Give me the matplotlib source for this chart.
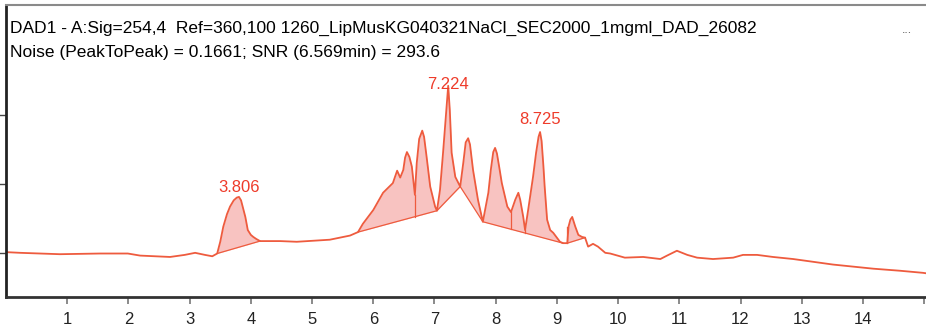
import numpy as np
import matplotlib.pyplot as plt

# chromatogram trace (time in min, signal in arbitrary units)
time = [0.00, 0.23, 0.56, 0.88, 1.54, 1.99, 2.19, 2.68, 2.92, 3.09, 3.25, 3.37,
        3.45, 3.50, 3.55, 3.61, 3.66, 3.72, 3.77, 3.806, 3.84, 3.88, 3.91, 3.95, 4.00, 4.04, 4.09,
        4.15, 4.48, 4.75, 5.29,
        5.62, 5.75, 5.83, 6.00, 6.16, 6.32, 6.39, 6.44, 6.49, 6.52, 6.55, 6.59, 6.63, 6.68,
        6.71, 6.75, 6.80, 6.83, 6.87, 6.93, 7.01, 7.04, 7.09, 7.14, 7.17, 7.19, 7.224, 7.25, 7.28,
        7.34, 7.42, 7.47, 7.51, 7.55, 7.58, 7.63, 7.71, 7.79, 7.88, 7.92, 7.96, 7.99, 8.02, 8.06,
        8.10, 8.19, 8.25, 8.32, 8.37, 8.40, 8.45, 8.48, 8.53, 8.61, 8.66, 8.70, 8.725,
        8.75, 8.78, 8.80, 8.84, 8.89, 8.94, 8.99, 9.05, 9.10, 9.17, 9.19, 9.22, 9.25,
        9.30, 9.35, 9.41, 9.46, 9.51, 9.59, 9.67, 9.79, 9.87, 10.11, 10.41, 10.69,
        10.80, 10.96, 11.13, 11.29, 11.55, 11.88, 12.04, 12.27, 12.53, 12.86, 13.19,
        13.51, 13.84, 14.17, 14.61, 14.98, 15.06]
signal = [0.1, 0.0, -0.1, -0.2, -0.1, -0.1, -0.4, -0.6, -0.3, 0.0, -0.3, -0.5,
          -0.1, 1.6, 3.8, 5.6, 6.7, 7.6, 8.0, 8.1, 7.6, 6.2, 5.2, 3.3, 2.6, 2.3, 2.0,
          1.7, 1.7, 1.6, 1.9,
          2.5, 3.0, 4.2, 6.2, 8.7, 10.1, 11.9, 10.9, 12.0, 13.8, 14.6, 13.9, 12.5, 8.4,
          13.0, 16.5, 17.7, 16.8, 14.0, 9.6, 6.7, 6.1, 9.1, 14.5, 18.0, 20.3, 24.2, 20.7, 14.5,
          11.0, 9.6, 13.0, 16.0, 16.6, 15.7, 12.0, 7.7, 4.5, 8.7, 12.0, 14.6, 15.2, 14.4, 12.3,
          10.1, 6.7, 5.9, 7.7, 8.7, 7.7, 5.2, 3.3, 6.2, 11.0, 14.5, 16.8, 17.5,
          16.2, 12.5, 9.6, 4.8, 3.3, 2.9, 2.3, 1.6, 1.4, 1.4, 3.8, 4.8, 5.2,
          3.8, 2.6, 2.3, 2.2, 0.9, 1.3, 0.9, 0.0, -0.1, -0.7, -0.6, -0.9,
          -0.4, 0.3, -0.3, -0.7, -0.9, -0.7, -0.3, -0.3, -0.6, -0.9, -1.3,
          -1.7, -2.0, -2.3, -2.6, -2.9, -3.0]

# integration baselines (polylines between curve points)
base_a_t = [3.45, 4.15]
base_a_s = [-0.1, 1.7]
base_b_t = [5.75, 7.04, 7.42, 7.79, 9.10]
base_b_s = [3.0, 6.1, 9.6, 4.5, 1.4]
base_c_t = [9.17, 9.46]
base_c_s = [1.4, 2.2]
drop_t = [6.68, 8.25, 8.48]

peak_times = [3.806, 7.224, 8.725]
peak_label_y = [8.8, 23.7, 18.6]

header1 = 'DAD1 - A:Sig=254,4  Ref=360,100 1260_LipMusKG040321NaCl_SEC2000_1mgml_DAD_26082'
header2 = 'Noise (PeakToPeak) = 0.1661; SNR (6.569min) = 293.6'

plt.rcParams['font.family'] = ['Liberation Sans', 'DejaVu Sans']

line_c = '#EE5B3E'
fill_c = '#F8C3C1'
lab_c = '#EE3B2A'

fig = plt.figure(figsize=(9.26, 3.32), dpi=100)
ax = fig.add_axes([6 / 926, 35 / 332, 1 - 6 / 926 + 0.002, 292 / 332])

t = np.array(time)
s = np.array(signal)

for bt, bs in [(base_a_t, base_a_s), (base_b_t, base_b_s), (base_c_t, base_c_s)]:
    m = (t >= bt[0]) & (t <= bt[-1])
    base = np.interp(t[m], bt, bs)
    ax.fill_between(t[m], s[m], base, color=fill_c, lw=0)
    ax.plot(bt, bs, color=line_c, lw=0.9)

for d in drop_t:
    top = np.interp(d, t, s)
    bot = np.interp(d, base_b_t, base_b_s)
    ax.plot([d, d], [bot, top], color=line_c, lw=0.9)
ax.plot([9.17, 9.17], [1.4, 3.8], color=line_c, lw=0.9)

ax.plot(t, s, color=line_c, lw=1.3)

for pt, py in zip(peak_times, peak_label_y):
    ax.text(pt, py, f'{pt:.3f}', color=lab_c, fontsize=12, ha='center', va='baseline')

ax.set_xlim(0, 15.06)
ax.set_ylim(-6.4, 35.9)
ax.set_xticks(range(1, 16))
ax.set_xticklabels([str(i) for i in range(1, 15)] + [''])
ax.set_yticks([0, 10, 20])
ax.set_yticklabels([])
ax.tick_params(axis='x', direction='out', length=5, width=1.2, color='#777777',
               labelsize=12, labelcolor='#222222', pad=6)
ax.tick_params(axis='y', direction='out', length=5, width=1, color='#444444')

ax.spines['right'].set_visible(False)
ax.spines['left'].set_linewidth(2)
ax.spines['left'].set_color('#222222')
ax.spines['bottom'].set_linewidth(2)
ax.spines['bottom'].set_color('#333333')
ax.spines['top'].set_linewidth(1.5)
ax.spines['top'].set_color('#8a8a8a')

fig.text(10 / 926, 1 - 32.5 / 332, header1, fontsize=12.5, color='black', va='baseline')
fig.text(10 / 926, 1 - 57.5 / 332, header2, fontsize=12.5, color='black', va='baseline')
fig.text(907 / 926, 1 - 33 / 332, '...', fontsize=9, color='#555555', ha='center', va='baseline')

fig.savefig('out.png', dpi=100)
